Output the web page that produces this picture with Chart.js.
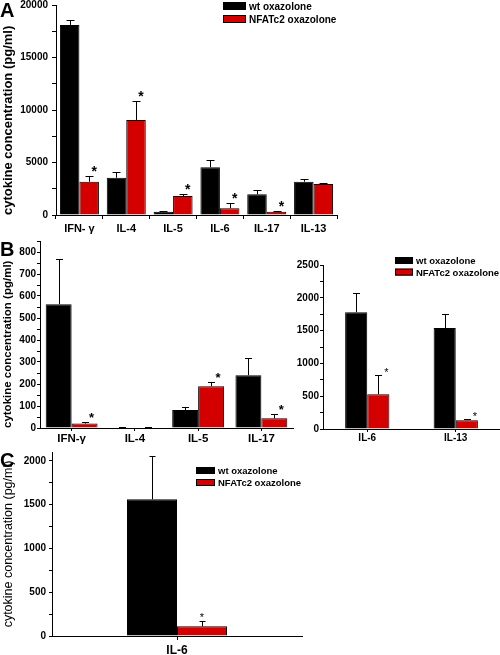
<!DOCTYPE html>
<html>
<head>
<meta charset="utf-8">
<script src="https://cdn.jsdelivr.net/npm/chart.js@4"></script>
<style>
  body { margin: 0; background: #fff; }
  #wrap { position: relative; width: 500px; height: 655px; overflow: hidden; background: #fff; }
  canvas { position: absolute; }
  .lettera { position: absolute; font: bold 20px 'Liberation Sans', Arial, sans-serif; line-height: 20px; color: #000; }
</style>
</head>
<body>
<div id="wrap">
  <canvas id="graficoA" width="345" height="240" style="left:0;top:0"></canvas>
  <canvas id="graficoB1" width="300" height="220" style="left:0;top:236px"></canvas>
  <canvas id="graficoB2" width="210" height="220" style="left:290px;top:236px"></canvas>
  <canvas id="graficoC" width="310" height="210" style="left:0;top:445px"></canvas>
  <div class="lettera" style="left:0;top:0">A</div>
  <div class="lettera" style="left:0;top:239px">B</div>
  <div class="lettera" style="left:0;top:450px">C</div>
</div>
<script>
// === DATI ===
const SERIES = ['wt oxazolone', 'NFATc2 oxazolone'];
const Y_TITLE = 'cytokine concentration (pg/ml)';

// pannello A
const A_CATS = ['IFN- γ', 'IL-4', 'IL-5', 'IL-6', 'IL-17', 'IL-13'];
const A_WT = [18100, 3550, 310, 4540, 1970, 3170];
const A_WT_SEM = [450, 570, 40, 700, 380, 230];
const A_KO = [3170, 9050, 1810, 640, 310, 2950];
const A_KO_SEM = [570, 1810, 160, 470, 90, 100];
const A_SIG = [true, true, true, true, true, false];

// pannello B sinistra
const B1_CATS = ['IFN-γ', 'IL-4', 'IL-5', 'IL-17'];
const B1_WT = [563, 2, 82, 240];
const B1_WT_SEM = [207, 2, 15, 76];
const B1_KO = [20, 2, 190, 44];
const B1_KO_SEM = [9, 3, 20, 18];
const B1_SIG = [true, false, true, true];

// pannello B destra
const B2_CATS = ['IL-6', 'IL-13'];
const B2_WT = [1780, 1540];
const B2_WT_SEM = [300, 215];
const B2_KO = [530, 135];
const B2_KO_SEM = [300, 10];
const B2_SIG = [true, true];

// pannello C
const C_CATS = ['IL-6'];
const C_WT = [1560];
const C_WT_SEM = [500];
const C_KO = [110];
const C_KO_SEM = [60];
const C_SIG = [true];

const FONT = "'Liberation Sans', Arial, sans-serif";
const ROSSO = '#d40000';

// === PLUGIN: barre di errore + asterischi ===
const errorBars = {
  id: 'errorBars',
  afterDatasetsDraw(chart, args, o) {
    const ctx = chart.ctx;
    const y = chart.scales.y;
    ctx.save();
    chart.data.datasets.forEach((ds, di) => {
      if (!ds.sem) return;
      chart.getDatasetMeta(di).data.forEach((bar, i) => {
        const top = Math.round(y.getPixelForValue(ds.data[i] + ds.sem[i])) + 0.5;
        const x = Math.round(bar.x) + 0.5;
        ctx.strokeStyle = '#000';
        ctx.lineWidth = 1;
        ctx.beginPath();
        ctx.moveTo(x, bar.y);
        ctx.lineTo(x, top);
        ctx.moveTo(x - o.cap / 2, top);
        ctx.lineTo(x + o.cap / 2, top);
        ctx.stroke();
        if (ds.sig && ds.sig[i]) {
          ctx.fillStyle = '#000';
          ctx.font = o.starFont;
          ctx.textAlign = 'center';
          ctx.textBaseline = 'alphabetic';
          ctx.fillText('*', bar.x + o.dx, top - o.dy + 0.58 * o.starSize);
        }
      });
    });
    ctx.restore();
  }
};

// === PLUGIN: legenda a riquadri ===
const boxLegend = {
  id: 'boxLegend',
  afterDraw(chart, args, o) {
    const ctx = chart.ctx;
    ctx.save();
    ctx.font = o.font;
    ctx.textAlign = 'left';
    ctx.textBaseline = 'middle';
    chart.data.datasets.forEach((ds, i) => {
      const by = o.y + i * o.pitch;
      ctx.fillStyle = ds.backgroundColor;
      ctx.fillRect(o.x, by, o.w, o.h);
      ctx.strokeStyle = '#000';
      ctx.lineWidth = 1;
      ctx.strokeRect(o.x + 0.5, by + 0.5, o.w - 1, o.h - 1);
      ctx.fillStyle = '#000';
      ctx.fillText(ds.label, o.x + o.w + 3, by + o.h / 2 + 1);
    });
    ctx.restore();
  }
};

function creaGrafico(id, c) {
  return new Chart(document.getElementById(id), {
    type: 'bar',
    data: {
      labels: c.labels,
      datasets: [
        { label: SERIES[0], data: c.wt, sem: c.wtSem, backgroundColor: '#000', borderColor: '#000', borderWidth: 1,
          categoryPercentage: c.catPct, barPercentage: 1 },
        { label: SERIES[1], data: c.ko, sem: c.koSem, sig: c.sig, backgroundColor: ROSSO, borderColor: '#000', borderWidth: 1,
          categoryPercentage: c.catPct, barPercentage: 1 }
      ]
    },
    plugins: [errorBars, boxLegend],
    options: {
      responsive: false,
      animation: false,
      devicePixelRatio: 1,
      layout: { padding: { top: c.padTop, right: c.padRight, left: 0, bottom: 0 } },
      plugins: {
        legend: { display: false },
        tooltip: { enabled: false },
        errorBars: c.err,
        boxLegend: c.legend
      },
      scales: {
        x: {
          offset: true,
          grid: { offset: c.gridOffset, drawOnChartArea: false, tickLength: c.xTick, color: '#000' },
          border: { color: '#000', width: 1 },
          ticks: { font: c.xFont, color: '#000', padding: c.xPad, autoSkip: false, maxRotation: 0 },
          afterFit: s => { s.height = c.xH; s.paddingLeft = 0; s.paddingRight = 0; }
        },
        y: {
          min: 0,
          max: c.yMax,
          grid: { drawOnChartArea: false, tickLength: c.yTick, color: '#000' },
          border: { color: '#000', width: 1 },
          ticks: {
            stepSize: c.yStep,
            includeBounds: false,
            autoSkip: false,
            font: c.yFont,
            color: '#000',
            padding: c.yPad,
            callback: v => (v % c.yMajor === 0 ? v : '')
          },
          title: {
            display: !!c.titleFont,
            text: Y_TITLE,
            align: c.titleAlign || 'center',
            color: '#000',
            font: c.titleFont,
            padding: { top: 1, bottom: 0 }
          },
          afterFit: s => { s.width = c.yW; s.paddingTop = 0; s.paddingBottom = 0; }
        }
      }
    }
  });
}

// === A ===
creaGrafico('graficoA', {
  labels: A_CATS, wt: A_WT, wtSem: A_WT_SEM, ko: A_KO, koSem: A_KO_SEM, sig: A_SIG,
  catPct: 0.833, padTop: 5, padRight: 8, yW: 56, xH: 25,
  yMax: 20000, yStep: 2500, yMajor: 5000, yTick: 4, yPad: 4,
  yFont: { family: FONT, size: 10, weight: 'bold' },
  xTick: 4, xPad: 3, xFont: { family: FONT, size: 11, weight: 'bold' },
  gridOffset: true,
  titleFont: { family: FONT, size: 13, weight: 'bold' }, titleAlign: 'start',
  err: { cap: 8, starFont: 'bold 14px ' + FONT, starSize: 14, dx: 5, dy: 9 },
  legend: { x: 223, y: 2, w: 23, h: 8, pitch: 13, font: 'bold 10px ' + FONT }
});

// === B sinistra ===
creaGrafico('graficoB1', {
  labels: B1_CATS, wt: B1_WT, wtSem: B1_WT_SEM, ko: B1_KO, koSem: B1_KO_SEM, sig: B1_SIG,
  catPct: 0.82, padTop: 5, padRight: 7, yW: 40, xH: 28,
  yMax: 850, yStep: 50, yMajor: 100, yTick: 3, yPad: 1,
  yFont: { family: FONT, size: 10, weight: 'bold' },
  xTick: 3, xPad: 1, xFont: { family: FONT, size: 11.5, weight: 'bold' },
  gridOffset: false,
  titleFont: { family: FONT, size: 11.5, weight: 'bold' }, titleAlign: 'start',
  err: { cap: 7, starFont: 'bold 13px ' + FONT, starSize: 13, dx: 7, dy: 8 },
  legend: false
});

// === B destra ===
creaGrafico('graficoB2', {
  labels: B2_CATS, wt: B2_WT, wtSem: B2_WT_SEM, ko: B2_KO, koSem: B2_KO_SEM, sig: B2_SIG,
  catPct: 0.5, padTop: 29, padRight: 0, yW: 33, xH: 27,
  yMax: 2500, yStep: 250, yMajor: 500, yTick: 3, yPad: 1,
  yFont: { family: FONT, size: 10, weight: 'bold' },
  xTick: 3, xPad: 0, xFont: { family: FONT, size: 10, weight: 'bold' },
  gridOffset: false,
  titleFont: null,
  err: { cap: 7, starFont: '11px ' + FONT, starSize: 11, dx: 8, dy: 6 },
  legend: { x: 105, y: 21, w: 18, h: 7, pitch: 11.6, font: 'bold 9.5px ' + FONT }
});

// === C ===
creaGrafico('graficoC', {
  labels: C_CATS, wt: C_WT, wtSem: C_WT_SEM, ko: C_KO, koSem: C_KO_SEM, sig: C_SIG,
  catPct: 0.4, padTop: 7, padRight: 8, yW: 52, xH: 19,
  yMax: 2100, yStep: 250, yMajor: 500, yTick: 3, yPad: 3,
  yFont: { family: FONT, size: 10, weight: 'bold' },
  xTick: 4, xPad: 3, xFont: { family: FONT, size: 12, weight: 'bold' },
  gridOffset: false,
  titleFont: { family: FONT, size: 12.5, weight: 'normal' }, titleAlign: 'center',
  err: { cap: 6, starFont: '11px ' + FONT, starSize: 11, dx: 0, dy: 7 },
  legend: { x: 196, y: 22, w: 19, h: 7, pitch: 12, font: 'bold 9.5px ' + FONT }
});
</script>
</body>
</html>
